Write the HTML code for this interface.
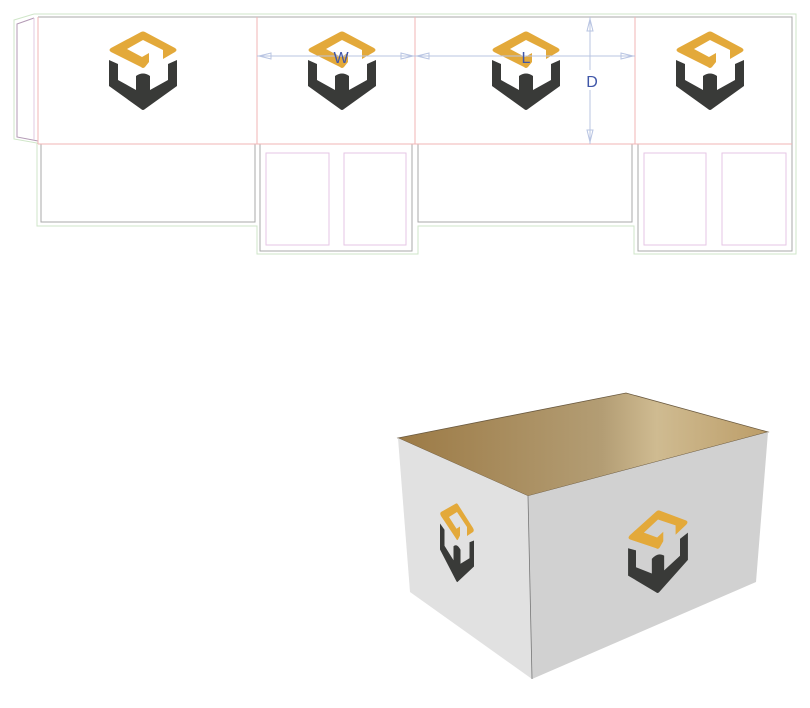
<!DOCTYPE html>
<html><head><meta charset="utf-8"><style>
html,body{margin:0;padding:0;background:#fff;}
svg{display:block;}
text{font-family:"Liberation Sans",sans-serif;}
</style></head><body>
<svg width="810" height="708" viewBox="0 0 810 708" xmlns="http://www.w3.org/2000/svg">
<defs>
<g id="logo">
  <path d="M-2,1 Q0,0 2,1 L32,17 Q35,19 32,21 L20,28 L20,19 L0,9 L-16,18 L-1,26 L6,22 L6,31 L2,36 Q0,38 -2,36 L-32,21 Q-35,19 -32,17 Z" fill="#e3a93a"/>
  <path d="M-34,29 L-25,33 L-25,49 L-7,59 L-7,45 Q0,40 7,45 L7,59 L25,49 L25,33 L34,29 L34,55 L2,78 Q0,80 -2,78 L-34,55 Z" fill="#393a38"/>
</g>
<linearGradient id="inside" x1="398" y1="0" x2="768" y2="0" gradientUnits="userSpaceOnUse">
  <stop offset="0" stop-color="#9c7a45"/>
  <stop offset="0.55" stop-color="#b39d74"/>
  <stop offset="0.7" stop-color="#cfbb91"/>
  <stop offset="1" stop-color="#bc9d68"/>
</linearGradient>
</defs>

<path d="M34,14 L796,14 L796,254 L634,254 L634,226 L418,226 L418,254 L257,254 L257,226 L37,226 L37,143 L14,139 L14,20 L34,14" fill="none" stroke="#cfe6c8" stroke-width="1"/>
<path d="M38,17 L792,17 L792,251 L638,251 L638,144 L632,144 L632,222 L418,222 L418,144 L412,144 L412,251 L260,251 L260,144 L255,144 L255,222 L41,222 L41,144" fill="none" stroke="#aaa" stroke-width="1"/>
<path d="M34,18 L17,24 L17,137 L38,141" fill="none" stroke="#b39ab5" stroke-width="1"/>
<line x1="34" y1="18" x2="34" y2="140" stroke="#e0c8e0" stroke-width="1"/>
<g stroke="#f2b6b6" stroke-width="1">
<line x1="38" y1="17" x2="38" y2="144"/>
<line x1="257" y1="17" x2="257" y2="144"/>
<line x1="415" y1="17" x2="415" y2="144"/>
<line x1="635" y1="17" x2="635" y2="144"/>
<line x1="38" y1="144" x2="792" y2="144"/>
</g>
<g fill="none" stroke="#e6c6e4" stroke-width="1">
<rect x="266" y="153" width="63" height="92"/>
<rect x="344" y="153" width="62" height="92"/>
<rect x="644" y="153" width="62" height="92"/>
<rect x="722" y="153" width="64" height="92"/>
</g>

<use href="#logo" x="143" y="31"/>
<use href="#logo" x="342" y="31"/>
<use href="#logo" x="526" y="31"/>
<use href="#logo" x="710" y="31"/>

<g stroke="#b8c4e2" stroke-width="1" fill="none">
<line x1="257" y1="56" x2="635" y2="56"/>
<path d="M259,56 L271,53 L271,59 Z"/>
<path d="M413,56 L401,53 L401,59 Z"/>
<path d="M417,56 L429,53 L429,59 Z"/>
<path d="M633,56 L621,53 L621,59 Z"/>
<line x1="590" y1="17" x2="590" y2="144"/>
<path d="M590,19 L587,31 L593,31 Z"/>
<path d="M590,142 L587,130 L593,130 Z"/>
</g>
<rect x="582" y="70" width="16" height="20" fill="#fff"/>
<g fill="#3f56a8" font-size="16" text-anchor="middle">
<text x="341" y="63">W</text>
<text x="526" y="63">L</text>
<text x="592" y="87">D</text>
</g>

<polygon points="398,438 626,393 768,432 528,496" fill="url(#inside)" stroke="#6b5a40" stroke-width="0.8"/>
<polygon points="398,438 528,496 532,679 410,592" fill="#e1e1e1"/>
<polygon points="528,496 768,432 756,582 532,679" fill="#d1d1d1"/>
<line x1="528" y1="496" x2="532" y2="679" stroke="#777" stroke-width="0.8"/>
<g transform="matrix(0.88,-0.23,0,1.05,658,510)"><use href="#logo"/></g>
<g transform="matrix(0.5,0.25,0,1.0,457,503)"><use href="#logo"/></g>
</svg>
</body></html>
